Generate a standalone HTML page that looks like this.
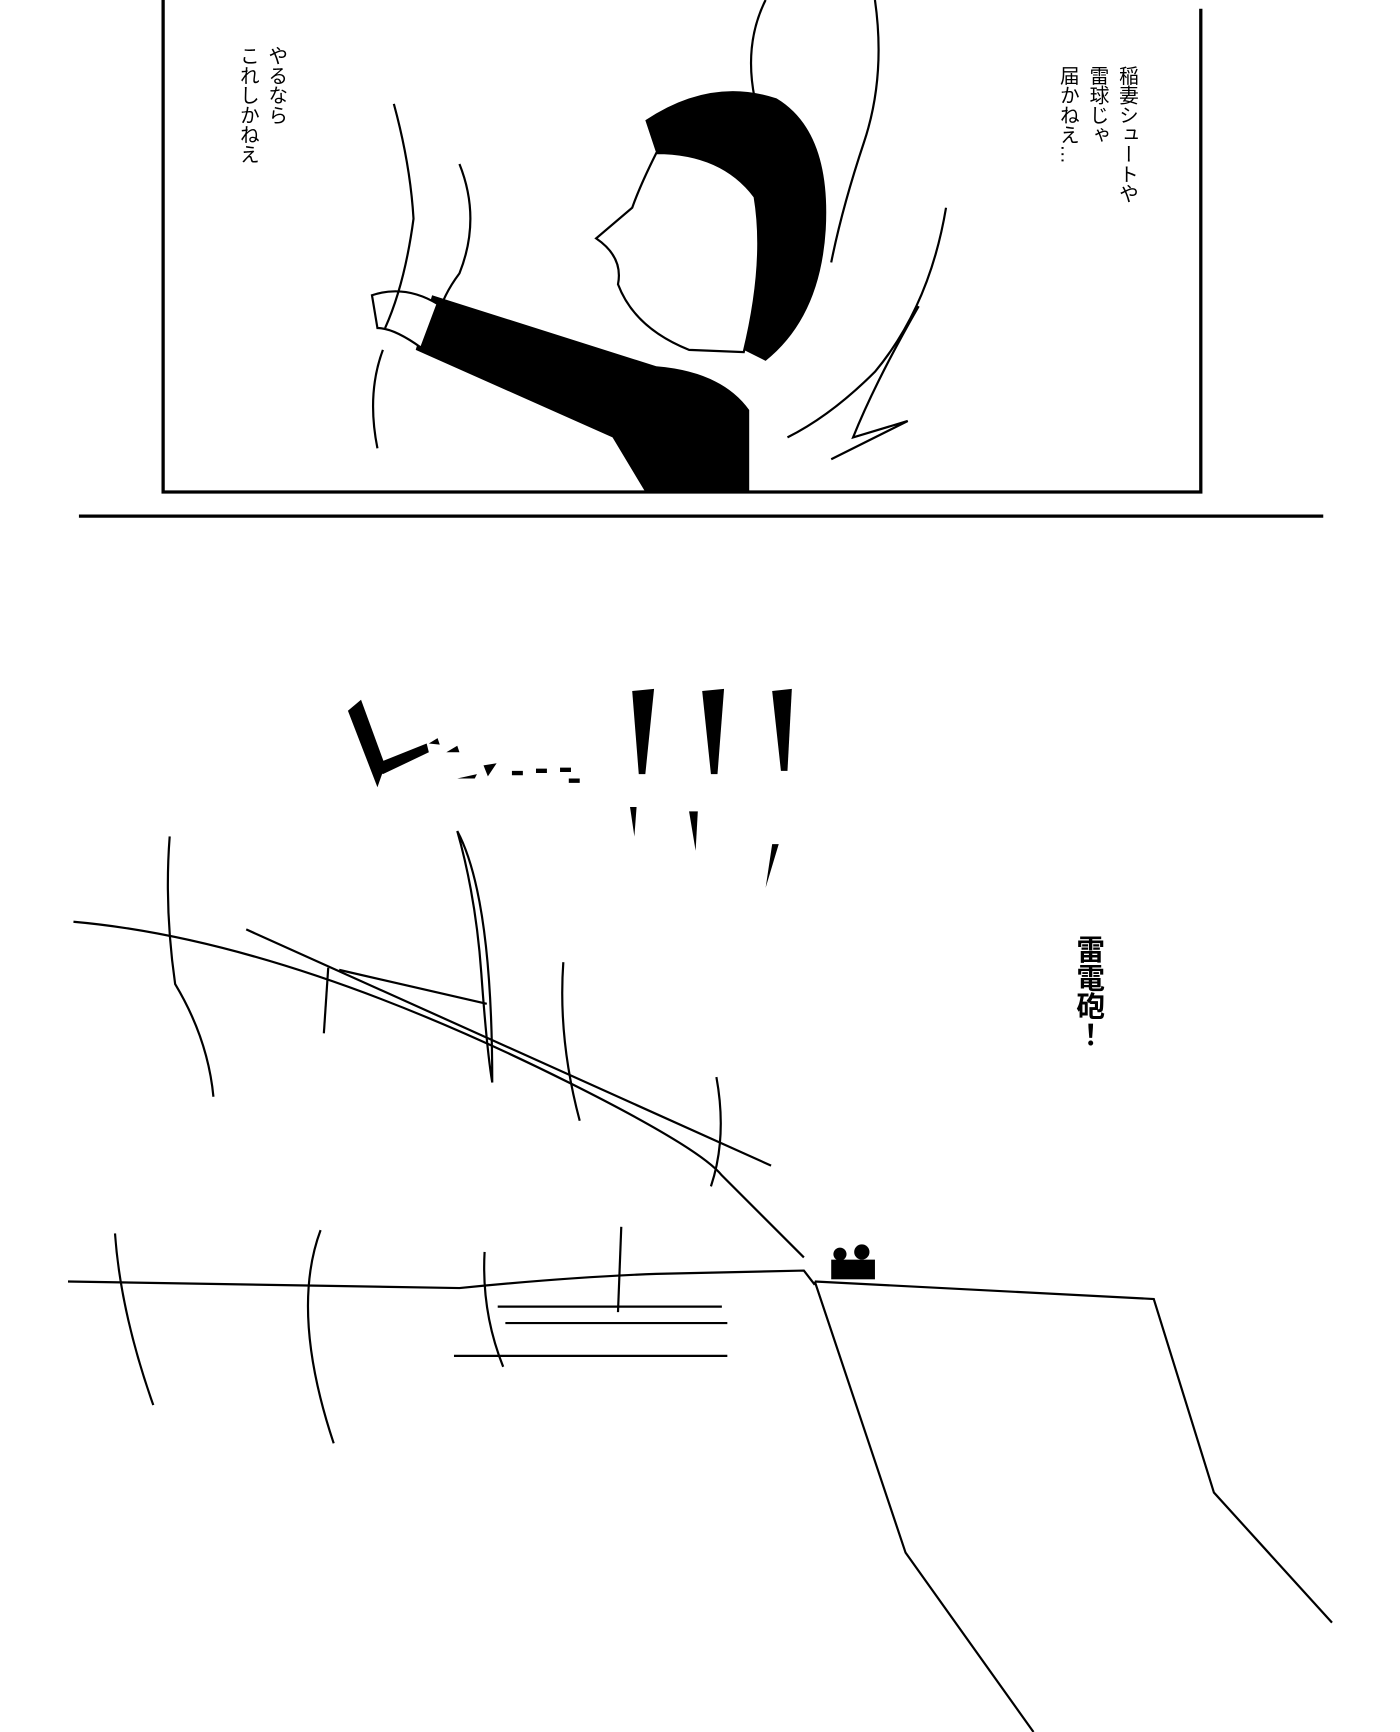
<!DOCTYPE html>
<html><head><meta charset="utf-8"><style>
html,body{margin:0;padding:0;background:#fff;}
svg{display:block}
.v{font-family:"Liberation Sans","Noto Sans CJK JP",sans-serif;writing-mode:vertical-rl;}
</style></head><body>
<svg width="1400" height="1732" viewBox="0 0 1280 1584" xmlns="http://www.w3.org/2000/svg">
<rect width="1280" height="1584" fill="#fff"/>
<g stroke="#000" fill="none" stroke-width="3">
<path d="M149 0 V450 H1098 V8"/>
<path d="M72 472 H1210"/>
</g>
<!-- top texts -->
<text class="v" x="1030" y="60" font-size="18" fill="#000">稲妻シュートや</text>
<text class="v" x="1003" y="60" font-size="18" fill="#000">雷球じゃ</text>
<text class="v" x="976" y="60" font-size="18" fill="#000">届かねえ…</text>
<text class="v" x="252" y="42" font-size="18" fill="#000">やるなら</text>
<text class="v" x="226" y="42" font-size="18" fill="#000">これしかねえ</text>
<!-- character -->
<path d="M590 110 Q650 70 710 90 Q760 120 755 210 Q750 290 700 330 L680 320 Q700 240 690 180 Q660 140 600 140 Z" fill="#000"/>
<path d="M600 140 Q585 170 578 190 L545 218 Q570 235 565 260 Q580 300 630 320 L680 322 Q700 240 690 180 Q660 140 600 140 Z" fill="#fff" stroke="#000" stroke-width="2"/>
<path d="M395 270 L600 335 Q660 340 685 375 L685 450 L590 450 L560 400 L380 320 Z" fill="#000"/>
<path d="M340 270 Q370 260 400 278 L385 318 Q360 300 345 300 Z" fill="#fff" stroke="#000" stroke-width="2"/>
<g stroke="#000" fill="none" stroke-width="2">
<path d="M360 95 Q375 150 378 200 Q370 260 352 300"/>
<path d="M350 320 Q335 360 345 410"/>
<path d="M420 150 Q440 200 420 250 Q405 270 400 290"/>
<path d="M700 0 Q680 40 690 90"/>
<path d="M800 0 Q810 70 790 130 Q770 190 760 240"/>
<path d="M865 190 Q850 280 800 340 Q760 380 720 400"/>
<path d="M840 280 Q800 350 780 400 L830 385 Q780 410 760 420"/>
</g>
<!-- SFX -->
<g fill="#000">
<path d="M318 650 L330 640 L352 700 L345 720 Z"/>
<path d="M340 700 L390 680 L392 688 L350 708 Z"/>
<path d="M408 688 l10 -6 l2 6 z M392 680 l8 -5 l2 6 z"/>
<path d="M418 712 l18 -4 l-2 4 z M442 700 l12 -2 l-8 12 z"/>
<path d="M468 705 h10 v4 h-10z M490 703 h10 v4 h-10z M512 702 h10 v4 h-10z M520 712 h10 v4 h-10z"/>
<path d="M578 632 L598 630 L590 708 L584 708 Z"/>
<path d="M642 632 L662 630 L656 708 L650 708 Z"/>
<path d="M706 632 L724 630 L720 705 L714 705 Z"/>
<path d="M576 738 L582 738 L580 765 Z"/>
<path d="M630 742 L638 742 L636 778 Z"/>
<path d="M706 772 L712 772 L700 812 Z"/>
</g>
<text class="v" x="995" y="855" font-size="26" font-weight="bold" fill="#000">雷電砲！</text>
<!-- landscape -->
<g stroke="#000" fill="none" stroke-width="2">
<path d="M67 843 Q260 860 520 990 Q640 1050 660 1075 L735 1150"/>
<path d="M225 850 L705 1066"/>
<path d="M310 887 L445 918"/>
<path d="M62 1172 L420 1178 Q520 1168 600 1165 L735 1162 L745 1175"/>
<path d="M745 1172 L1055 1188 L1110 1365 L1218 1484"/>
<path d="M745 1172 L828 1420 L945 1584"/>
<path d="M455 1195 H660 M462 1210 H665 M415 1240 H665"/>
<path d="M155 765 Q150 830 160 900 Q190 950 195 1003"/>
<path d="M418 760 Q450 820 450 990 Q445 960 440 890 Q435 820 418 760"/>
<path d="M300 885 L296 945"/>
<path d="M515 880 Q510 950 530 1025"/>
<path d="M655 985 Q665 1040 650 1085"/>
<path d="M105 1128 Q110 1200 140 1285"/>
<path d="M293 1125 Q265 1200 305 1320"/>
<path d="M443 1145 Q440 1200 460 1250"/>
<path d="M568 1122 L565 1200"/>
</g>
<g fill="#000"><circle cx="768" cy="1147" r="6"/><circle cx="788" cy="1145" r="7"/><rect x="760" y="1152" width="40" height="18"/></g>
</svg>
</body></html>
